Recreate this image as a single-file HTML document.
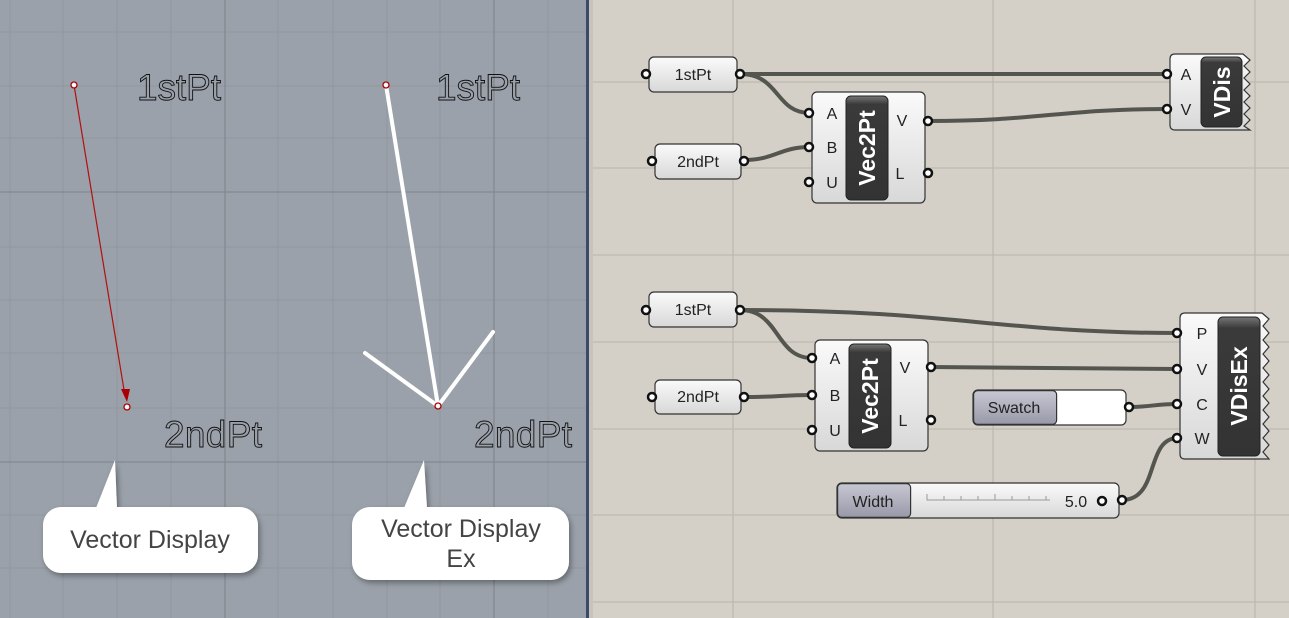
<!DOCTYPE html>
<html><head><meta charset="utf-8"><style>
html,body{margin:0;padding:0;width:1289px;height:618px;overflow:hidden;background:#d4d0c8}
svg{display:block}
.lbl{font-family:"Liberation Sans",sans-serif}
</style></head><body>
<svg width="1289" height="618" viewBox="0 0 1289 618" xmlns="http://www.w3.org/2000/svg">
<defs>
<linearGradient id="comp" x1="0" y1="0" x2="0" y2="1"><stop offset="0" stop-color="#fafafa"/><stop offset="1" stop-color="#d8d8d8"/></linearGradient>
<linearGradient id="dark" x1="0" y1="0" x2="0" y2="1"><stop offset="0" stop-color="#777"/><stop offset="0.08" stop-color="#3a3a3a"/><stop offset="1" stop-color="#333"/></linearGradient>
<linearGradient id="gl" x1="0" y1="0" x2="0" y2="1"><stop offset="0" stop-color="#c8c8d4"/><stop offset="1" stop-color="#9898a8"/></linearGradient>
<filter id="sh" x="-20%" y="-20%" width="140%" height="140%"><feDropShadow dx="2" dy="3" stdDeviation="3" flood-color="#000" flood-opacity="0.35"/></filter>
</defs>
<rect x="0" y="0" width="587" height="618" fill="#9ba1aa"/>
<g stroke="#939900" stroke-width="0"></g>
<g stroke="#92989f" stroke-width="1">
<line x1="10" y1="0" x2="10" y2="618"/><line x1="63" y1="0" x2="63" y2="618"/><line x1="117" y1="0" x2="117" y2="618"/><line x1="171" y1="0" x2="171" y2="618"/><line x1="278" y1="0" x2="278" y2="618"/><line x1="333" y1="0" x2="333" y2="618"/><line x1="387" y1="0" x2="387" y2="618"/><line x1="440" y1="0" x2="440" y2="618"/><line x1="548" y1="0" x2="548" y2="618"/>
<line x1="0" y1="32" x2="587" y2="32"/><line x1="0" y1="86" x2="587" y2="86"/><line x1="0" y1="138" x2="587" y2="138"/><line x1="0" y1="247" x2="587" y2="247"/><line x1="0" y1="300" x2="587" y2="300"/><line x1="0" y1="353" x2="587" y2="353"/><line x1="0" y1="408" x2="587" y2="408"/><line x1="0" y1="515" x2="587" y2="515"/><line x1="0" y1="568" x2="587" y2="568"/>
</g>
<g stroke="#848990" stroke-width="1.3">
<line x1="225" y1="0" x2="225" y2="618"/><line x1="494" y1="0" x2="494" y2="618"/>
<line x1="0" y1="192" x2="587" y2="192"/><line x1="0" y1="462" x2="587" y2="462"/>
</g>
<rect x="586" y="0" width="3" height="618" fill="#3a4a6a"/>
<rect x="589" y="0" width="4" height="618" fill="#c8c4bc"/>
<line x1="74" y1="85" x2="125" y2="396" stroke="#b01010" stroke-width="1.2"/>
<polygon points="121,389 130,389 127,402" fill="#a00"/>
<line x1="386" y1="85" x2="438" y2="406" stroke="#fff" stroke-width="4"/>
<line x1="365" y1="353" x2="438" y2="406" stroke="#fff" stroke-width="4" stroke-linecap="round"/>
<line x1="493" y1="332" x2="438" y2="406" stroke="#fff" stroke-width="4" stroke-linecap="round"/>
<g fill="#fff" stroke="#a00" stroke-width="1.3">
<circle cx="74" cy="85" r="3"/><circle cx="127" cy="407" r="3"/><circle cx="386" cy="85" r="3"/><circle cx="438" cy="406" r="3"/>
</g>
<g class="lbl" font-size="37" fill="none" stroke="#111" stroke-width="0.9">
<text x="137" y="100" textLength="84">1stPt</text><text x="436" y="100" textLength="84">1stPt</text>
<text x="164" y="447" textLength="98">2ndPt</text><text x="474" y="447" textLength="98">2ndPt</text>
</g>
<g filter="url(#sh)" fill="#fff">
<path d="M115,460 L117,508 L96,508 Z"/><rect x="43" y="507" width="215" height="66" rx="18"/>
<path d="M424,460 L427,508 L404,508 Z"/><rect x="352" y="507" width="217" height="73" rx="18"/>
</g>
<g class="lbl" font-size="25" fill="#444" text-anchor="middle">
<text x="150" y="548">Vector Display</text>
<text x="461" y="537">Vector Display</text><text x="461" y="567">Ex</text>
</g>
<g stroke="#bdb9b0" stroke-width="1.3">
<line x1="733" y1="0" x2="733" y2="618"/><line x1="993" y1="0" x2="993" y2="618"/><line x1="1255" y1="0" x2="1255" y2="618"/>
<line x1="593" y1="82" x2="1289" y2="82"/><line x1="593" y1="168" x2="1289" y2="168"/><line x1="593" y1="255" x2="1289" y2="255"/><line x1="593" y1="342" x2="1289" y2="342"/><line x1="593" y1="429" x2="1289" y2="429"/><line x1="593" y1="515" x2="1289" y2="515"/><line x1="593" y1="602" x2="1289" y2="602"/>
</g>
<g fill="none" stroke="#55554f" stroke-width="4">
<path d="M740,74 L1168,74"/>
<path d="M740,74 C780,74 775,113 810,113"/>
<path d="M744,160 C775,160 780,147 810,147"/>
<path d="M928,121 C1040,121 1060,109 1168,109"/>
<path d="M740,310 C950,310 1000,333 1178,333"/>
<path d="M740,310 C780,310 775,358 812,358"/>
<path d="M744,397 C780,397 780,395 812,395"/>
<path d="M931,367 L1178,369"/>
<path d="M1129,407 C1150,407 1155,404 1178,404"/>
<path d="M1122,500 C1160,500 1145,438 1178,438"/>
</g>
<g stroke="#333" stroke-width="1.2" fill="url(#comp)">
<rect x="649" y="57" width="88" height="35" rx="5"/>
<rect x="655" y="144" width="86" height="35" rx="5"/>
<rect x="649" y="292" width="88" height="35" rx="5"/>
<rect x="655" y="380" width="86" height="34" rx="5"/>
<rect x="812" y="92" width="113" height="111" rx="5"/>
<rect x="815" y="340" width="113" height="111" rx="5"/>
<path d="M1175,54 L1243,54 L1250,60 L1244,66 L1250,72 L1244,78 L1250,84 L1244,90 L1250,96 L1244,102 L1250,108 L1244,114 L1250,120 L1244,126 L1250,130 L1175,130 Q1170,130 1170,125 L1170,59 Q1170,54 1175,54 Z"/>
<path d="M1185,313 L1262,313 L1269,319 L1263,326 L1269,333 L1263,340 L1269,347 L1263,354 L1269,361 L1263,368 L1269,375 L1263,382 L1269,389 L1263,396 L1269,403 L1263,410 L1269,417 L1263,424 L1269,431 L1263,438 L1269,445 L1263,452 L1269,459 L1185,459 Q1180,459 1180,454 L1180,318 Q1180,313 1185,313 Z"/>
<rect x="973" y="390" width="153" height="35" rx="5" fill="#fff"/>
<rect x="837" y="483" width="282" height="35" rx="5"/>
</g>
<rect x="973.6" y="390.6" width="83" height="33.8" rx="4" fill="url(#gl)" stroke="#333" stroke-width="1.2"/>
<rect x="837.6" y="483.6" width="73" height="33.8" rx="4" fill="url(#gl)" stroke="#333" stroke-width="1.2"/>
<g stroke="#999" stroke-width="1" fill="none"><path d="M927,494 V500 H1050 M944,496 V500 M961,496 V500 M978,496 V500 M995,494 V500 M1012,496 V500 M1029,496 V500 M1046,496 V500"/></g>
<circle cx="1102" cy="501" r="4" fill="#fff" stroke="#111" stroke-width="2.5"/>
<g fill="url(#dark)" stroke="#222" stroke-width="1">
<rect x="846" y="96" width="42" height="104" rx="5"/>
<rect x="849" y="344" width="42" height="104" rx="5"/>
<rect x="1201" y="57" width="41" height="70" rx="5"/>
<rect x="1218" y="317" width="42" height="139" rx="5"/>
</g>
<g class="lbl" font-size="23" font-weight="bold" fill="#fff" text-anchor="middle">
<text transform="translate(875,148) rotate(-90)">Vec2Pt</text>
<text transform="translate(878,396) rotate(-90)">Vec2Pt</text>
<text transform="translate(1230,92) rotate(-90)">VDis</text>
<text transform="translate(1247,386) rotate(-90)">VDisEx</text>
</g>
<g class="lbl" font-size="16" fill="#222" text-anchor="middle">
<text x="693" y="80">1stPt</text><text x="698" y="167">2ndPt</text>
<text x="693" y="315">1stPt</text><text x="698" y="402">2ndPt</text>
<text x="832" y="119">A</text><text x="832" y="153">B</text><text x="832" y="188">U</text>
<text x="902" y="126">V</text><text x="900" y="179">L</text>
<text x="835" y="364">A</text><text x="835" y="401">B</text><text x="835" y="436">U</text>
<text x="905" y="373">V</text><text x="903" y="426">L</text>
<text x="1186" y="80">A</text><text x="1186" y="115">V</text>
<text x="1202" y="339">P</text><text x="1202" y="375">V</text><text x="1202" y="410">C</text><text x="1202" y="444">W</text>
<text x="1014" y="413">Swatch</text><text x="873" y="507">Width</text>
<text x="1076" y="507">5.0</text>
</g>
<g fill="#fff" stroke="#111" stroke-width="2.5">
<circle cx="646" cy="74" r="4"/><circle cx="740" cy="74" r="4"/>
<circle cx="652" cy="161" r="4"/><circle cx="744" cy="161" r="4"/>
<circle cx="646" cy="310" r="4"/><circle cx="740" cy="310" r="4"/>
<circle cx="652" cy="397" r="4"/><circle cx="744" cy="397" r="4"/>
<circle cx="809" cy="113" r="4"/><circle cx="809" cy="147" r="4"/><circle cx="809" cy="182" r="4"/>
<circle cx="928" cy="121" r="4"/><circle cx="928" cy="173" r="4"/>
<circle cx="812" cy="358" r="4"/><circle cx="812" cy="395" r="4"/><circle cx="812" cy="430" r="4"/>
<circle cx="931" cy="367" r="4"/><circle cx="931" cy="420" r="4"/>
<circle cx="1167" cy="74" r="4"/><circle cx="1167" cy="109" r="4"/>
<circle cx="1177" cy="333" r="4"/><circle cx="1177" cy="369" r="4"/><circle cx="1177" cy="404" r="4"/><circle cx="1177" cy="438" r="4"/>
<circle cx="1129" cy="407" r="4"/><circle cx="1122" cy="500" r="4"/>
</g>
</svg>
</body></html>
